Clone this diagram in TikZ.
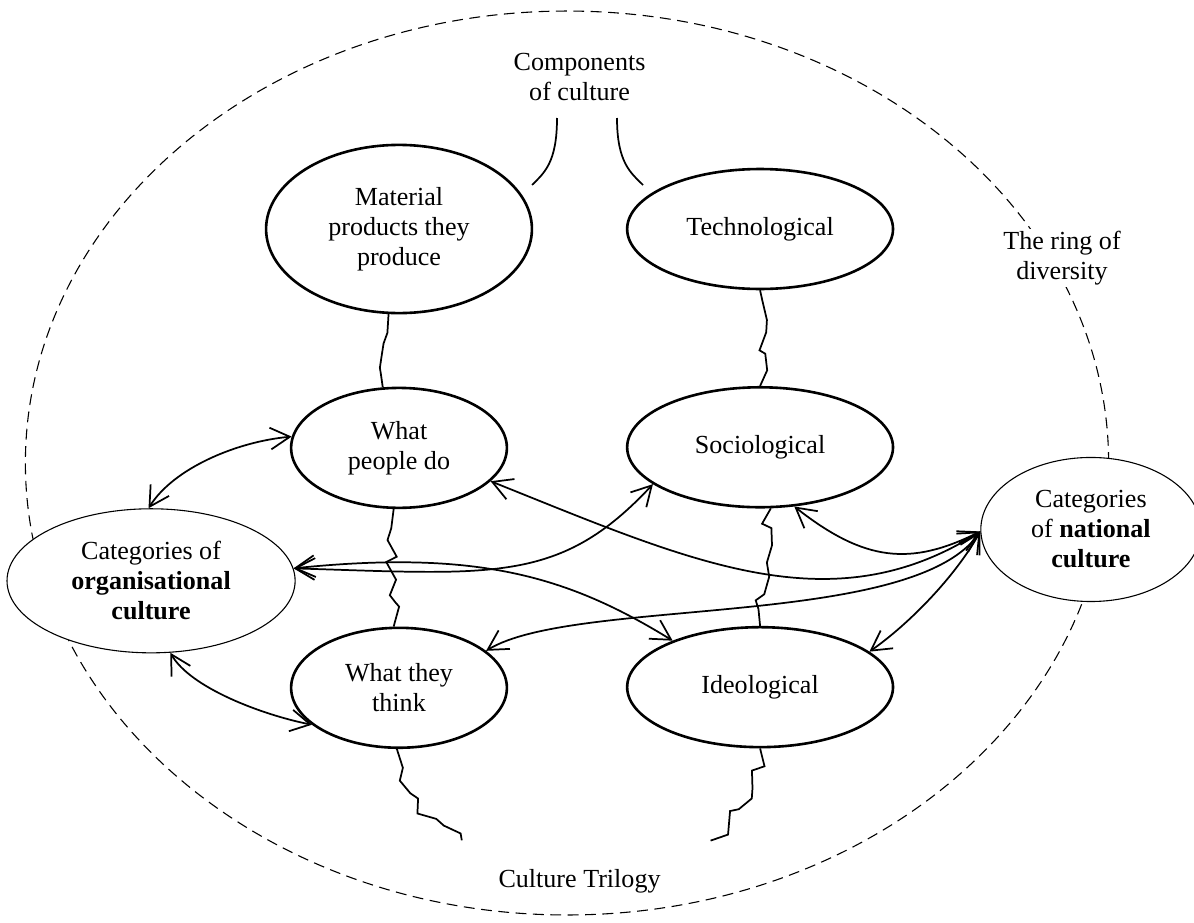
\documentclass[tikz,border=0pt]{standalone}
\usepackage{fontspec}
\setmainfont{Liberation Serif}
\usetikzlibrary{arrows.meta,positioning,calc,shapes.geometric,decorations.pathmorphing}

\begin{document}
\begin{tikzpicture}[
    x=0.01617cm, y=-0.01617cm, on grid,
    trio/.style={ellipse, draw, very thick, fill=white, align=center, inner sep=0pt,
      minimum height=1.94cm, font=\fontsize{12}{13.8}\selectfont},
    wide/.style={minimum width=4.3cm},
    slim/.style={minimum width=3.49cm},
    cat/.style={ellipse, draw, line width=0.5pt, fill=white, align=center, inner sep=0pt,
      minimum height=2.33cm, font=\fontsize{12}{13.8}\selectfont},
    lbl/.style={align=center, fill=white, inner sep=1pt, font=\fontsize{12}{13.8}\selectfont},
    arr/.style={<->, >={Straight Barb[length=9pt,width=10pt]}, thick},
    wiggle/.style={thick, decorate, decoration={random steps, segment length=6pt, amplitude=4pt}},
    link/.style={thick}
  ]
    \pgfmathsetseed{11}
    \useasboundingbox (0,0) rectangle (1194,922);
    \draw[line width=0.5pt, dash pattern=on 5pt off 3pt] (567,463) ellipse [x radius=8.76cm, y radius=7.31cm];

    \node[trio, wide, minimum height=2.72cm] (mat) at (399,229) {Material\\products they\\produce};
    \node[trio, wide, right=5.84cm of mat] (tech) {Technological};
    \node[trio, slim, below=3.54cm of mat] (doo) {What\\people do};
    \node[trio, slim, below=3.88cm of doo] (think) {What they\\think};
    \node[trio, wide, below=3.53cm of tech] (soc) {Sociological};
    \node[trio, wide, below=3.88cm of soc] (ideo) {Ideological};
    \node[cat, minimum width=4.66cm, below left=2.15cm and 4.01cm of doo] (org) {Categories of\\\textbf{organisational}\\\textbf{culture}};
    \node[cat, minimum width=3.56cm, below right=1.33cm and 5.35cm of soc] (nat) {Categories\\of \textbf{national}\\\textbf{culture}};

    \node[lbl] (comp) at ($(mat)!.5!(tech)+(0,-152)$) {Components\\of culture};
    \node[lbl] (ring) at (1062,258) {The ring of\\diversity};
    \node[lbl] (tri) at ($(think)!.5!(ideo)+(0,194)$) {Culture Trilogy};

    \coordinate (comp-l) at (557,118);
    \coordinate (comp-r) at (617,118);
    \coordinate (mat-tip) at (532,185);
    \coordinate (tech-tip) at (643,185);
    \coordinate (tri-l) at (462,840);
    \coordinate (tri-r) at (710,840);

    \draw[link] (comp-l) .. controls +(0,45) and +(12,-12) .. (mat-tip);
    \draw[link] (comp-r) .. controls +(0,45) and +(-12,-12) .. (tech-tip);

    \draw[wiggle] (mat.-97) -- (doo.105);
    \draw[wiggle] (tech.south) -- (soc.north);
    \draw[wiggle] (doo.-95) -- (think.95);
    \draw[wiggle] (soc.-80) -- (ideo.north);
    \draw[wiggle] (think.-92) .. controls +(0,45) and +(-25,-15) .. (tri-l);
    \draw[wiggle] (ideo.south) .. controls +(0,40) and +(25,-20) .. (tri-r);

    \draw[arr] (org.92) .. controls +(25,-40) and +(-55,5) .. (doo.174);
    \draw[arr] (org.-75) .. controls +(20,35) and +(-50,-10) .. (think.203);
    \draw[arr] (org.5) .. controls +(200,6) and +(-93,100) .. (soc.199);
    \draw[arr] (org.5) .. controls +(185,-19) and +(-104,-64) .. (ideo.152);
    \draw[arr] (doo.-20) .. controls +(200,80) and +(-150,95) .. (nat.181);
    \draw[arr] (soc.-60) .. controls +(70,55) and +(-70,35) .. (nat.181);
    \draw[arr] (think.23) .. controls +(88,-54) and +(-68,98) .. (nat.181);
    \draw[arr] (ideo.18) .. controls +(40,-28) and +(-25,45) .. (nat.181);
  \end{tikzpicture}
\end{document}
